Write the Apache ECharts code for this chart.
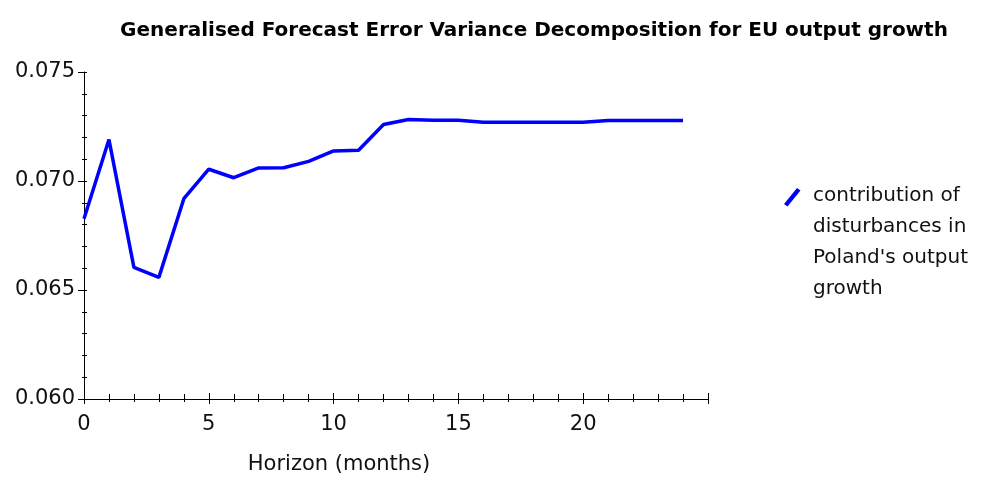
<!DOCTYPE html>
<html>
<head>
<meta charset="utf-8">
<script src="https://cdn.jsdelivr.net/npm/echarts@6/dist/echarts.min.js"></script>
<style>html,body{margin:0;padding:0;background:#fff;}#c{width:985px;height:477px;}</style>
</head>
<body>
<div id="c"></div>
<script>
const titleText = 'Generalised Forecast Error Variance Decomposition for EU output growth';
const xAxisName = 'Horizon (months)';
const seriesName = "contribution of\ndisturbances in\nPoland's output\ngrowth";
const horizons = [0,1,2,3,4,5,6,7,8,9,10,11,12,13,14,15,16,17,18,19,20,21,22,23,24];
const contribution = [0.06827,0.07190,0.06604,0.06558,0.06919,0.07054,0.07015,0.07060,0.07061,0.07090,0.07138,0.07141,0.07259,0.07282,0.07279,0.07279,0.07270,0.07270,0.07270,0.07270,0.07270,0.07278,0.07278,0.07278,0.07278];
const yTickLabels = ['0.060','0.065','0.070','0.075'];

const chart = echarts.init(document.getElementById('c'), null, {renderer:'canvas'});
const font = '"DejaVu Sans", Verdana, sans-serif';
const txt = '#111';
const blank = {show: false};
function xAx(inside) {
  return {
    type: 'value', min: 0, max: 25, interval: 5, position: 'bottom',
    name: inside ? '' : xAxisName, nameLocation: 'middle', nameGap: 55,
    nameTextStyle: {fontFamily: font, fontSize: 21, color: txt, padding: [0, 114, 0, 0]},
    axisLine: inside ? blank : {lineStyle: {color: '#000', width: 1}},
    axisTick: {show: true, inside: inside, length: inside ? 6 : 5, lineStyle: {color: '#000'}},
    minorTick: {show: true, splitNumber: 5, length: inside ? 5 : 3, lineStyle: {color: '#000'}},
    splitLine: blank,
    axisLabel: inside ? blank : {fontFamily: font, fontSize: 21, color: txt, margin: 15,
      formatter: v => (v === 25 ? '' : String(v))}
  };
}
function yAx(inside) {
  return {
    type: 'value', min: 0.060, max: 0.075, interval: 0.005, position: 'left',
    axisLine: inside ? blank : {show: true, lineStyle: {color: '#000', width: 1}},
    axisTick: {show: true, inside: inside, length: inside ? 3 : 6, lineStyle: {color: '#000'}},
    minorTick: {show: true, splitNumber: 5, length: inside ? 3 : 2, lineStyle: {color: '#000'}},
    splitLine: blank,
    axisLabel: inside ? blank : {fontFamily: font, fontSize: 21, color: txt, margin: 9,
      formatter: v => yTickLabels[Math.round((v - 0.060) / 0.005)]}
  };
}
chart.setOption({
  animation: false,
  backgroundColor: '#fff',
  title: {
    text: titleText, left: 529, top: 16, textAlign: 'center',
    textStyle: {fontFamily: font, fontSize: 20, fontWeight: 'bold', color: '#000'}
  },
  grid: {left: 84, right: 277, top: 72, bottom: 78, containLabel: false, outerBoundsMode: 'none'},
  xAxis: [xAx(false), xAx(true)],
  yAxis: [yAx(false), yAx(true)],
  legend: {
    orient: 'vertical', left: 783, top: 180,
    itemWidth: 25, itemHeight: 124, itemGap: 0, padding: 0,
    icon: 'path://M0,0 L0.01,0 L0,0.01 Z M25,124 L24.99,124 L25,123.99 Z M1,24 L14,8 L17.5,10.5 L4.5,26.5 Z',
    textStyle: {fontFamily: font, fontSize: 20, color: txt, lineHeight: 31},
    data: [{name: seriesName, itemStyle: {color: '#0000ff'}}]
  },
  series: [{
    name: seriesName, type: 'line', xAxisIndex: 0, yAxisIndex: 0,
    data: horizons.map((h, i) => [h, contribution[i]]),
    showSymbol: false, symbol: 'none',
    lineStyle: {color: '#0000ff', width: 3.5},
    itemStyle: {color: '#0000ff'}
  }]
});
</script>
</body>
</html>
